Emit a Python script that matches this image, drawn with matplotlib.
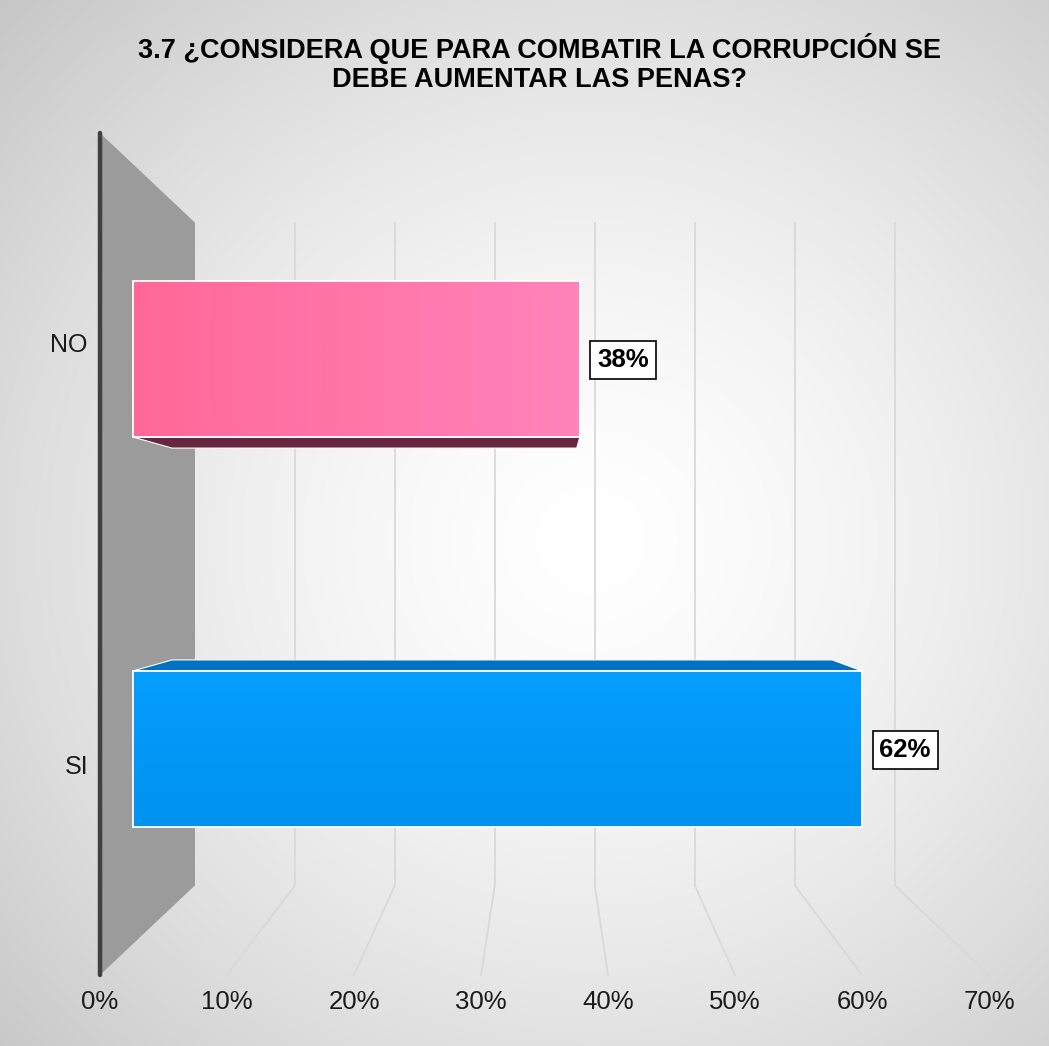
import numpy as np
import matplotlib
matplotlib.use("Agg")
import matplotlib.pyplot as plt
from matplotlib.patches import Polygon

plt.rcParams['font.family'] = ['Liberation Sans', 'DejaVu Sans']

# data
categories = ['NO', 'SI']
values = [38, 62]
label_texts = ['38%', '62%']
ticks = [0, 10, 20, 30, 40, 50, 60, 70]
tick_labels = ['0%', '10%', '20%', '30%', '40%', '50%', '60%', '70%']
title = '3.7 ¿CONSIDERA QUE PARA COMBATIR LA CORRUPCIÓN SE\nDEBE AUMENTAR LAS PENAS?'

# 3d look: front plane in pixels, everything else shrinks toward a vanishing point
W, H = 1049, 1046
X0, PX = 100.0, 12.7          # front plane: x of 0% and pixels per 1%
YTOP, YBOT = 133.0, 975.0     # front plane vertical extent
VPX, VPY = 546.0, 554.0       # vanishing point
S_BACK = 0.787                # scale of back wall
S_BAR_F, S_BAR_B = 0.926, 0.8386  # front / back scale of the bars
band = (YBOT - YTOP) / len(categories)
bar_h = 0.4 * band


def proj(v, y, s):
    xf = X0 + PX * v
    return VPX + (xf - VPX) * s, VPY + (y - VPY) * s


def grad_fill(ax, pts, c0, c1, vertical=False, z=5):
    poly = Polygon(pts, closed=True, fc='none', ec='none', zorder=z)
    ax.add_patch(poly)
    xs = [p[0] for p in pts]
    ys = [p[1] for p in pts]
    t = np.linspace(0, 1, 64)
    g = np.array(c0)[None, :] * (1 - t[:, None]) + np.array(c1)[None, :] * t[:, None]
    img = g[:, None, :] if vertical else g[None, :, :]
    im = ax.imshow(img / 255.0, extent=[min(xs), max(xs), max(ys), min(ys)],
                   aspect='auto', interpolation='bilinear', zorder=z)
    im.set_clip_path(poly)


fig = plt.figure(figsize=(W / 100, H / 100), dpi=100)
ax = fig.add_axes([0, 0, 1, 1])

# background radial gradient
yy, xx = np.mgrid[0:H, 0:W]
r = np.sqrt(((xx - 590) / 620.0) ** 2 + ((yy - 540) / 600.0) ** 2)
shade = np.clip(1.0 - 0.149 * r ** 1.5, 0.75, 1.0)
ax.imshow(np.dstack([shade] * 3), extent=[0, W, H, 0], aspect='auto', zorder=0)

# back wall gridlines
for v in ticks[1:]:
    (x1, y1), (x2, y2) = proj(v, YTOP, S_BACK), proj(v, YBOT, S_BACK)
    ax.plot([x1, x2], [y1, y2], color='#d9d9d9', lw=1.3, zorder=1)
    # floor lines
    (x3, y3) = proj(v, YBOT, 1.0)
    ax.plot([x2, x3], [y2, y3], color='#d9d9d9', lw=1.3, zorder=1)

# side wall
side = [proj(0, YTOP, 1.0), proj(0, YTOP, S_BACK), proj(0, YBOT, S_BACK), proj(0, YBOT, 1.0)]
ax.add_patch(Polygon(side, closed=True, fc='#9b9b9b', ec='none', zorder=2))
(xa, ya), (xb, yb) = proj(0, YTOP, 1.0), proj(0, YBOT, 1.0)
ax.plot([xa, xb], [ya, yb], color='#404040', lw=3.2, solid_capstyle='round', zorder=3)

# bars
front_cols = [((255, 104, 152), (255, 132, 186)), ((5, 158, 255), (0, 146, 238))]
side_cols = ['#662640', '#0072c0']
for i, (cat, val) in enumerate(zip(categories, values)):
    yc = YTOP + (i + 0.5) * band
    yt, yb_ = yc - bar_h / 2, yc + bar_h / 2
    if yc < VPY:
        # bottom face visible
        face = [proj(0, yb_, S_BAR_F), proj(val, yb_, S_BAR_F),
                proj(val, yb_, S_BAR_B), proj(0, yb_, S_BAR_B)]
    else:
        face = [proj(0, yt, S_BAR_F), proj(val, yt, S_BAR_F),
                proj(val, yt, S_BAR_B), proj(0, yt, S_BAR_B)]
    ax.add_patch(Polygon(face, closed=True, fc=side_cols[i], ec='white', lw=0.8, zorder=4))
    front = [proj(0, yt, S_BAR_F), proj(val, yt, S_BAR_F),
             proj(val, yb_, S_BAR_F), proj(0, yb_, S_BAR_F)]
    c0, c1 = front_cols[i]
    grad_fill(ax, front, c0, c1, vertical=(i == 1), z=5)
    ax.add_patch(Polygon(front, closed=True, fc='none', ec='white', lw=1.3, zorder=6))

    # data label
    xr, ymid = proj(val, yc, S_BAR_F)
    ax.text(xr + 43, ymid + 1, label_texts[i], ha='center', va='center', fontsize=18.5,
            fontweight='bold', zorder=8,
            bbox=dict(boxstyle='square,pad=0.27', fc='white', ec='black', lw=1.2))

    # category label
    ax.text(88, yc + 2, cat, ha='right', va='center', fontsize=18, color='#1a1a1a', zorder=8)

# x tick labels
for v, lab in zip(ticks, tick_labels):
    x, _ = proj(v, YBOT, 1.0)
    ax.text(x, 1002, lab, ha='center', va='center', fontsize=18.5, color='#1a1a1a', zorder=8)

ax.text(540, 63, title, ha='center', va='center', fontsize=19.5, fontweight='bold',
        linespacing=1.18, zorder=8)

ax.set_xlim(0, W)
ax.set_ylim(H, 0)
ax.axis('off')
fig.savefig('out.png', dpi=100)
